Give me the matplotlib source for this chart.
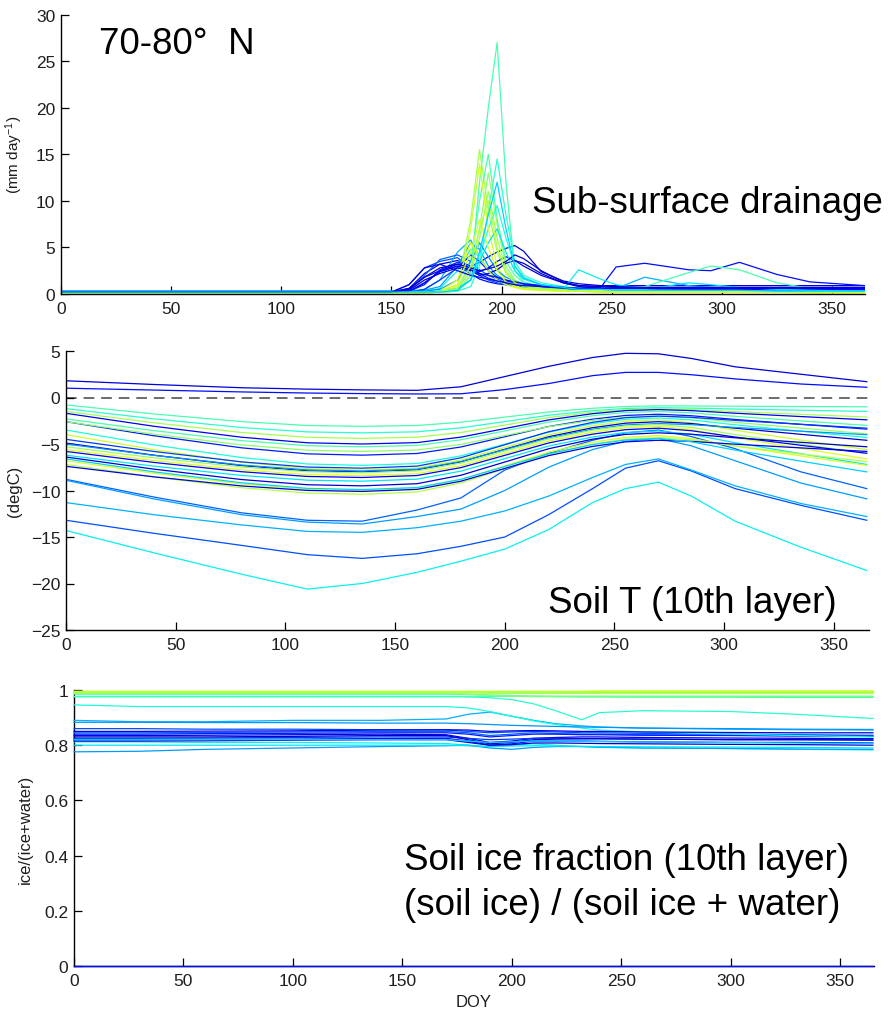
import matplotlib
matplotlib.use("Agg")
import matplotlib.pyplot as plt
from matplotlib.ticker import FuncFormatter, MultipleLocator

plt.rcParams['font.family'] = ['Liberation Sans', 'DejaVu Sans']
plt.rcParams['mathtext.fontset'] = 'custom'
plt.rcParams['mathtext.rm'] = 'Liberation Sans'
plt.rcParams['mathtext.it'] = 'Liberation Sans:italic'
plt.rcParams['axes.unicode_minus'] = True

# ---------------------------------------------------------------- data
# one entry per grid cell: position on the jet colour scale
cell_colour = [0.08, 0.14, 0.36, 0.20, 0.30, 0.22, 0.28, 0.44, 0.40, 0.55,
               0.10, 0.44, 0.15, 0.52, 0.38, 0.60, 0.18, 0.06, 0.27, 0.54,
               0.62, 0.12, 0.35, 0.07, 0.61, 0.57, 0.09, 0.33]

# sub-surface drainage (mm/day)
drain_doy = [0, 150, 158, 165, 172, 180, 186, 190, 194, 198, 202, 206, 210,
             218, 228, 235, 245, 252, 265, 285, 295, 308, 325, 340, 365]
drainage = [
    [0.2, 0.2, 0.6, 2.2, 3.2, 3.6, 3.0, 3.4, 4.0, 4.5, 4.9, 5.2, 4.6, 2.4, 1.4, 1.1, 0.9, 0.9, 0.9, 0.9, 0.9, 0.9, 0.9, 0.9, 0.9],
    [0.1, 0.1, 0.2, 1.2, 2.4, 3.0, 2.2, 1.6, 1.3, 1.1, 1.0, 0.9, 0.8, 0.7, 0.6, 0.6, 0.7, 2.9, 3.3, 2.6, 2.5, 3.4, 2.1, 1.3, 0.9],
    [0.2, 0.2, 0.2, 0.3, 0.6, 2.5, 4.8, 4.0, 2.5, 1.5, 1.0, 0.8, 0.7, 0.6, 0.5, 2.6, 1.6, 1.0, 0.6, 0.5, 0.4, 0.4, 0.3, 0.3, 0.3],
    [0.2, 0.2, 1.0, 2.8, 3.5, 3.9, 2.8, 2.0, 1.5, 1.2, 1.0, 0.9, 0.8, 0.7, 0.6, 0.5, 0.5, 0.5, 0.5, 0.5, 0.5, 0.5, 0.5, 0.5, 0.5],
    [0.3, 0.3, 0.3, 0.5, 1.5, 4.5, 5.8, 4.0, 2.5, 1.8, 1.4, 1.2, 1.0, 0.8, 0.7, 0.6, 0.6, 0.6, 1.8, 0.9, 0.7, 0.6, 0.5, 0.5, 0.5],
    [0.2, 0.2, 0.5, 2.0, 3.7, 4.2, 3.5, 2.6, 2.0, 1.6, 1.2, 1.0, 0.9, 0.7, 0.6, 0.5, 0.5, 0.4, 0.4, 0.4, 0.4, 0.4, 0.4, 0.4, 0.4],
    [0.3, 0.3, 0.3, 0.4, 0.8, 3.0, 5.5, 4.8, 3.0, 2.0, 1.5, 1.2, 1.0, 0.8, 0.6, 0.5, 0.5, 0.4, 0.4, 0.4, 0.4, 0.4, 0.4, 0.3, 0.3],
    [0.2, 0.2, 0.2, 0.2, 0.2, 0.3, 2.0, 12.0, 20.0, 27.0, 12.0, 2.5, 1.3, 0.8, 0.5, 0.4, 0.3, 0.3, 0.3, 0.3, 0.3, 0.3, 0.3, 0.2, 0.2],
    [0.2, 0.2, 0.2, 0.2, 0.2, 0.3, 0.8, 3.0, 9.0, 14.5, 8.5, 3.5, 2.0, 1.2, 0.8, 0.6, 0.5, 0.4, 0.4, 0.3, 0.3, 0.3, 0.3, 0.3, 0.3],
    [0.2, 0.2, 0.2, 0.2, 0.3, 1.0, 8.0, 15.5, 9.0, 4.5, 2.2, 1.3, 1.0, 0.7, 0.5, 0.4, 0.3, 0.3, 0.3, 0.3, 0.3, 0.3, 0.2, 0.2, 0.2],
    [0.2, 0.2, 0.6, 1.8, 2.5, 3.2, 3.0, 2.4, 2.8, 3.5, 4.0, 3.6, 3.0, 2.0, 1.2, 0.9, 0.8, 0.7, 0.7, 0.7, 0.7, 0.7, 0.7, 0.7, 0.7],
    [0.2, 0.2, 0.2, 0.2, 0.2, 0.5, 3.5, 10.0, 15.0, 8.0, 3.5, 2.0, 1.2, 0.8, 0.6, 0.5, 0.5, 0.4, 0.8, 2.3, 3.0, 2.6, 1.2, 0.6, 0.4],
    [0.2, 0.2, 0.3, 1.0, 2.6, 3.4, 3.0, 2.2, 1.7, 1.4, 1.2, 1.0, 0.9, 0.8, 0.7, 0.6, 0.6, 0.6, 0.6, 0.6, 0.6, 0.6, 0.6, 0.6, 0.6],
    [0.2, 0.2, 0.2, 0.2, 0.2, 0.5, 2.5, 7.0, 13.0, 7.5, 3.0, 1.5, 1.0, 0.6, 0.4, 0.3, 0.3, 0.3, 0.3, 0.3, 0.3, 0.2, 0.2, 0.2, 0.2],
    [0.2, 0.2, 0.2, 0.2, 0.3, 0.6, 1.5, 4.0, 7.0, 9.5, 6.0, 3.0, 1.8, 1.0, 0.7, 0.5, 0.5, 0.4, 0.4, 0.4, 0.4, 0.4, 0.3, 0.3, 0.3],
    [0.1, 0.1, 0.1, 0.1, 0.2, 0.8, 7.0, 14.0, 7.0, 3.0, 1.5, 0.9, 0.6, 0.4, 0.3, 0.3, 0.2, 0.2, 0.2, 0.2, 0.2, 0.2, 0.2, 0.2, 0.2],
    [0.2, 0.2, 0.2, 0.5, 1.5, 2.8, 4.2, 3.5, 2.5, 1.8, 1.4, 1.2, 1.0, 0.8, 0.6, 0.5, 0.5, 0.5, 0.5, 0.5, 0.5, 0.5, 0.5, 0.5, 0.5],
    [0.2, 0.2, 0.4, 1.5, 2.2, 2.8, 2.5, 2.0, 2.2, 2.6, 3.3, 3.6, 3.3, 2.2, 1.2, 0.8, 0.6, 0.6, 0.5, 0.5, 0.5, 0.5, 0.5, 0.5, 0.5],
    [0.3, 0.3, 0.3, 0.3, 0.5, 1.5, 3.5, 5.5, 4.0, 2.5, 1.8, 1.4, 1.1, 0.9, 0.7, 0.6, 0.5, 0.5, 0.5, 0.5, 0.4, 0.4, 0.4, 0.4, 0.4],
    [0.2, 0.2, 0.2, 0.2, 0.2, 0.4, 2.0, 6.0, 11.0, 6.0, 2.5, 1.4, 0.9, 0.6, 0.4, 0.3, 0.3, 0.3, 0.3, 0.3, 0.3, 0.3, 0.2, 0.2, 0.2],
    [0.1, 0.1, 0.1, 0.1, 0.3, 1.5, 5.5, 4.0, 2.5, 1.5, 1.0, 0.7, 0.5, 0.4, 0.3, 0.3, 0.3, 0.2, 0.2, 0.2, 0.2, 0.2, 0.2, 0.2, 0.2],
    [0.2, 0.2, 0.3, 1.2, 2.4, 3.0, 2.6, 2.2, 2.0, 1.8, 1.5, 1.3, 1.1, 0.9, 0.7, 0.6, 0.6, 0.6, 0.6, 0.5, 0.5, 0.5, 0.5, 0.5, 0.5],
    [0.2, 0.2, 0.2, 0.2, 0.3, 0.6, 1.5, 3.5, 5.5, 7.0, 4.5, 2.5, 1.6, 1.0, 0.7, 0.6, 0.5, 0.5, 0.5, 1.2, 1.0, 0.7, 0.5, 0.4, 0.3],
    [0.2, 0.2, 0.5, 1.8, 2.8, 3.2, 2.8, 2.5, 2.7, 3.0, 3.5, 4.2, 3.8, 2.5, 1.3, 0.9, 0.8, 0.8, 0.7, 0.7, 0.7, 0.7, 0.7, 0.7, 0.7],
    [0.1, 0.1, 0.1, 0.1, 0.2, 1.0, 4.5, 8.0, 5.0, 2.5, 1.3, 0.8, 0.5, 0.4, 0.3, 0.3, 0.2, 0.2, 0.2, 0.2, 0.2, 0.2, 0.2, 0.1, 0.1],
    [0.1, 0.1, 0.1, 0.1, 0.2, 0.6, 3.0, 7.0, 10.0, 5.0, 2.2, 1.2, 0.8, 0.5, 0.4, 0.3, 0.3, 0.3, 0.3, 0.3, 0.3, 0.3, 0.2, 0.2, 0.2],
    [0.2, 0.2, 1.0, 2.8, 3.2, 2.5, 2.0, 1.8, 1.6, 1.4, 1.2, 1.0, 0.9, 0.8, 0.7, 0.6, 0.6, 0.6, 0.6, 0.6, 0.6, 0.6, 0.6, 0.6, 0.6],
    [0.2, 0.2, 0.2, 0.2, 0.2, 0.4, 1.5, 4.5, 8.5, 12.0, 7.0, 3.0, 1.7, 1.0, 0.7, 0.5, 0.5, 0.4, 0.4, 0.4, 0.4, 0.4, 0.3, 0.3, 0.3],
]

# soil temperature of the 10th layer (degC)
soil_t_doy = [0, 40, 80, 110, 135, 160, 180, 200, 220, 240, 255, 270, 285, 305, 335, 365]
soil_t = [
    [1.8, 1.4, 1.05, 0.9, 0.82, 0.77, 1.15, 2.25, 3.35, 4.3, 4.75, 4.7, 4.2, 3.3, 2.5, 1.7],
    [1.0, 0.8, 0.6, 0.48, 0.42, 0.38, 0.4, 0.85, 1.5, 2.35, 2.7, 2.7, 2.45, 2.0, 1.45, 1.1],
    [-14.3, -16.7, -19.0, -20.6, -20.0, -18.8, -17.6, -16.3, -14.2, -11.3, -9.8, -9.1, -10.6, -13.3, -16.1, -18.6],
    [-13.2, -14.6, -15.9, -16.9, -17.3, -16.8, -16.0, -15.0, -12.6, -9.8, -7.6, -6.8, -7.9, -9.8, -11.6, -13.2],
    [-11.3, -12.6, -13.7, -14.4, -14.5, -14.0, -13.3, -12.2, -10.6, -8.6, -7.2, -6.6, -7.8, -9.5, -11.4, -12.8],
    [-8.8, -10.7, -12.4, -13.2, -13.3, -12.1, -10.8, -7.8, -6.0, -4.6, -3.8, -3.5, -4.2, -5.5, -8.0, -9.8],
    [-8.9, -10.9, -12.6, -13.4, -13.6, -12.8, -12.0, -10.0, -7.5, -5.6, -4.7, -4.4, -5.2, -6.8, -9.2, -10.9],
    [-0.8, -1.77, -2.59, -3.01, -3.1, -3.01, -2.66, -2.11, -1.56, -1.16, -0.97, -0.9, -0.91, -0.94, -0.97, -1.0],
    [-1.2, -2.29, -3.23, -3.7, -3.8, -3.69, -3.26, -2.59, -1.91, -1.42, -1.18, -1.1, -1.14, -1.24, -1.37, -1.5],
    [-1.5, -2.72, -3.76, -4.28, -4.4, -4.27, -3.76, -2.96, -2.16, -1.58, -1.3, -1.2, -1.29, -1.52, -1.81, -2.1],
    [-1.7, -3.09, -4.27, -4.87, -5.0, -4.85, -4.26, -3.34, -2.41, -1.74, -1.41, -1.3, -1.41, -1.69, -2.05, -2.4],
    [-2.3, -3.56, -4.64, -5.18, -5.3, -5.15, -4.54, -3.59, -2.64, -1.96, -1.61, -1.5, -1.65, -2.03, -2.52, -3.0],
    [-2.6, -4.11, -5.41, -6.06, -6.2, -6.02, -5.32, -4.22, -3.12, -2.33, -1.93, -1.8, -1.96, -2.36, -2.89, -3.4],
    [-2.6, -3.94, -5.1, -5.67, -5.8, -5.65, -5.04, -4.09, -3.14, -2.46, -2.11, -2.0, -2.19, -2.67, -3.29, -3.9],
    [-3.5, -5.1, -6.46, -7.15, -7.3, -7.1, -6.28, -5.01, -3.73, -2.81, -2.35, -2.2, -2.41, -2.94, -3.63, -4.3],
    [-4.0, -5.6, -6.96, -7.65, -7.8, -7.58, -6.72, -5.37, -4.02, -3.05, -2.56, -2.4, -2.72, -3.52, -4.58, -5.6],
    [-4.5, -5.8, -6.92, -7.48, -7.6, -7.38, -6.48, -5.08, -3.68, -2.67, -2.17, -2.0, -2.13, -2.46, -2.88, -3.3],
    [-4.9, -6.2, -7.32, -7.88, -8.0, -7.78, -6.92, -5.57, -4.22, -3.25, -2.76, -2.6, -2.8, -3.3, -3.96, -4.6],
    [-5.0, -6.22, -7.26, -7.78, -7.9, -7.7, -6.88, -5.61, -4.33, -3.41, -2.95, -2.8, -2.92, -3.22, -3.62, -4.0],
    [-5.3, -6.48, -7.48, -7.99, -8.1, -7.89, -7.06, -5.76, -4.46, -3.52, -3.06, -2.9, -3.21, -3.99, -5.01, -6.0],
    [-5.6, -6.78, -7.78, -8.29, -8.4, -8.19, -7.34, -6.02, -4.69, -3.74, -3.26, -3.1, -3.45, -4.33, -5.48, -6.6],
    [-5.8, -6.98, -7.98, -8.49, -8.6, -8.39, -7.54, -6.22, -4.89, -3.94, -3.46, -3.3, -3.57, -4.25, -5.14, -6.0],
    [-6.2, -7.38, -8.38, -8.89, -9.0, -8.78, -7.92, -6.57, -5.22, -4.25, -3.76, -3.6, -3.96, -4.86, -6.05, -7.2],
    [-6.4, -7.7, -8.82, -9.38, -9.5, -9.27, -8.36, -6.94, -5.51, -4.48, -3.97, -3.8, -3.95, -4.33, -4.82, -5.3],
    [-6.8, -8.14, -9.3, -9.87, -10.0, -9.76, -8.82, -7.35, -5.87, -4.81, -4.28, -4.1, -4.42, -5.22, -6.28, -7.3],
    [-7.2, -8.54, -9.7, -10.27, -10.4, -10.16, -9.18, -7.66, -6.13, -5.03, -4.48, -4.3, -4.56, -5.21, -6.07, -6.9],
    [-7.4, -8.53, -9.51, -9.99, -10.1, -9.88, -9.0, -7.63, -6.25, -5.26, -4.77, -4.6, -4.72, -5.02, -5.42, -5.8],
    [-6.6, -7.99, -9.17, -9.77, -9.9, -9.68, -8.8, -7.43, -6.05, -5.06, -4.57, -4.4, -4.76, -5.66, -6.85, -8.0],
]

# soil ice fraction of the 10th layer: ice / (ice + water)
ice_doy = [0, 30, 60, 100, 140, 170, 180, 190, 200, 210, 220, 232, 240, 260, 300, 330, 365]
ice_frac = [
    [0.0] * 17,
    [0.0] * 17,
    [0.812, 0.812, 0.81, 0.81, 0.808, 0.806, 0.80, 0.795, 0.80, 0.805, 0.80, 0.795, 0.792, 0.79, 0.788, 0.785, 0.783],
    [0.86, 0.86, 0.858, 0.858, 0.856, 0.855, 0.85, 0.845, 0.848, 0.85, 0.848, 0.845, 0.845, 0.843, 0.84, 0.838, 0.836],
    [0.89, 0.885, 0.885, 0.89, 0.89, 0.895, 0.912, 0.92, 0.905, 0.89, 0.878, 0.87, 0.866, 0.862, 0.858, 0.856, 0.855],
    [0.845, 0.845, 0.846, 0.848, 0.85, 0.85, 0.845, 0.835, 0.84, 0.845, 0.842, 0.84, 0.84, 0.838, 0.836, 0.835, 0.834],
    [0.776, 0.778, 0.785, 0.79, 0.795, 0.798, 0.80, 0.79, 0.785, 0.792, 0.795, 0.795, 0.793, 0.79, 0.788, 0.786, 0.785],
    [0.985, 0.985, 0.985, 0.985, 0.985, 0.985, 0.984, 0.982, 0.98, 0.978, 0.976, 0.975, 0.975, 0.974, 0.974, 0.973, 0.973],
    [0.975, 0.975, 0.975, 0.975, 0.975, 0.975, 0.975, 0.972, 0.965, 0.95, 0.925, 0.892, 0.918, 0.925, 0.922, 0.912, 0.897],
    [0.99, 0.99, 0.99, 0.99, 0.99, 0.99, 0.99, 0.988, 0.988, 0.988, 0.988, 0.988, 0.988, 0.988, 0.988, 0.988, 0.988],
    [0.835, 0.835, 0.836, 0.838, 0.84, 0.838, 0.825, 0.81, 0.815, 0.825, 0.828, 0.83, 0.83, 0.828, 0.826, 0.825, 0.824],
    [0.977, 0.977, 0.977, 0.977, 0.977, 0.977, 0.977, 0.977, 0.977, 0.976, 0.976, 0.976, 0.976, 0.976, 0.976, 0.976, 0.976],
    [0.84, 0.84, 0.842, 0.843, 0.845, 0.845, 0.84, 0.83, 0.835, 0.84, 0.84, 0.838, 0.838, 0.836, 0.835, 0.833, 0.832],
    [0.988, 0.988, 0.988, 0.988, 0.988, 0.988, 0.985, 0.98, 0.978, 0.978, 0.978, 0.978, 0.978, 0.978, 0.978, 0.978, 0.978],
    [0.946, 0.94, 0.94, 0.94, 0.94, 0.94, 0.935, 0.922, 0.905, 0.888, 0.875, 0.862, 0.855, 0.848, 0.84, 0.835, 0.83],
    [0.993] * 17,
    [0.825, 0.825, 0.826, 0.828, 0.83, 0.83, 0.825, 0.82, 0.822, 0.825, 0.825, 0.824, 0.824, 0.822, 0.82, 0.82, 0.82],
    [0.83, 0.83, 0.83, 0.832, 0.835, 0.835, 0.82, 0.805, 0.81, 0.82, 0.822, 0.823, 0.823, 0.822, 0.82, 0.82, 0.818],
    [0.883, 0.883, 0.882, 0.882, 0.88, 0.88, 0.878, 0.875, 0.872, 0.87, 0.868, 0.866, 0.865, 0.862, 0.86, 0.858, 0.857],
    [0.992] * 17,
    [0.998] * 17,
    [0.82, 0.82, 0.821, 0.822, 0.824, 0.825, 0.815, 0.80, 0.805, 0.815, 0.815, 0.815, 0.814, 0.812, 0.81, 0.81, 0.808],
    [0.80, 0.80, 0.80, 0.80, 0.80, 0.80, 0.798, 0.795, 0.797, 0.798, 0.797, 0.796, 0.795, 0.794, 0.793, 0.792, 0.79],
    [0.815, 0.815, 0.816, 0.818, 0.82, 0.82, 0.81, 0.80, 0.802, 0.808, 0.808, 0.807, 0.806, 0.805, 0.803, 0.802, 0.80],
    [0.995, 0.995, 0.995, 0.995, 0.995, 0.995, 0.995, 0.995, 0.995, 0.995, 0.995, 0.995, 0.997, 0.997, 0.997, 0.997, 0.997],
    [0.996] * 17,
    [0.85, 0.85, 0.851, 0.852, 0.855, 0.856, 0.855, 0.85, 0.852, 0.853, 0.852, 0.85, 0.85, 0.848, 0.846, 0.845, 0.845],
    [0.82, 0.82, 0.82, 0.82, 0.82, 0.82, 0.815, 0.81, 0.812, 0.815, 0.815, 0.814, 0.813, 0.812, 0.81, 0.808, 0.806],
]

x_ticks = [0, 50, 100, 150, 200, 250, 300, 350]

# ---------------------------------------------------------------- figure
W, H = 889, 1012
fig = plt.figure(figsize=(W / 100, H / 100), dpi=100)
cmap = plt.get_cmap('jet')


def box(left, top, right, bottom):
    return [left / W, 1 - bottom / H, (right - left) / W, (bottom - top) / H]


ax_dr = fig.add_axes(box(61, 15.6, 865, 295))
ax_t = fig.add_axes(box(66, 352, 869, 631))
ax_ice = fig.add_axes(box(74, 691, 874, 967))

tick_col = '#1e1e1e'
for ax in (ax_dr, ax_t, ax_ice):
    ax.spines['top'].set_visible(False)
    ax.spines['right'].set_visible(False)
    for side in ('left', 'bottom'):
        ax.spines[side].set_linewidth(1.0)
        ax.spines[side].set_color('black')
    ax.tick_params(direction='in', length=6, width=0.9, labelsize=12.5,
                   labelcolor=tick_col, color='black')
    ax.tick_params(axis='y', pad=4)
    ax.tick_params(axis='x', pad=5)
    ax.set_xticks(x_ticks)
    ax.patch.set_alpha(0)

lw = 0.9

# sub-surface drainage
for c, vals in zip(cell_colour, drainage):
    ax_dr.plot(drain_doy, vals, color=cmap(c), lw=lw)
ax_dr.set_xlim(0, 365)
ax_dr.set_ylim(0, 30)
ax_dr.yaxis.set_major_locator(MultipleLocator(5))
ax_dr.set_ylabel(r'(mm day$^{-1}$)', fontsize=11, color=tick_col)
ax_dr.yaxis.set_label_coords(-0.045, 0.5)

# soil temperature
ax_t.axhline(0, color='#444444', lw=1.1, ls=(0, (7, 4.5)), zorder=1)
for c, vals in zip(cell_colour, soil_t):
    ax_t.plot(soil_t_doy, vals, color=cmap(c), lw=lw)
ax_t.set_xlim(0, 366)
ax_t.set_ylim(-25, 5)
ax_t.yaxis.set_major_locator(MultipleLocator(5))
ax_t.set_ylabel('(degC)', fontsize=12, color=tick_col)
ax_t.yaxis.set_label_coords(-0.055, 0.5)

# soil ice fraction
for c, vals in zip(cell_colour, ice_frac):
    ax_ice.plot(ice_doy, vals, color=cmap(c), lw=lw, clip_on=False, zorder=3)
ax_ice.set_xlim(0, 365.5)
ax_ice.set_ylim(0, 1)
ax_ice.yaxis.set_major_locator(MultipleLocator(0.2))
ax_ice.yaxis.set_major_formatter(FuncFormatter(lambda v, p: f'{v:g}'))
ax_ice.set_ylabel('ice/(ice+water)', fontsize=12, color=tick_col)
ax_ice.yaxis.set_label_coords(-0.051, 0.5)
ax_ice.set_xlabel('DOY', fontsize=12, color=tick_col)
ax_ice.xaxis.set_label_coords(0.5, -0.10)

# panel annotations
big = 26.5
fig.text(99 / W, 1 - 54 / H, '70-80°  N', fontsize=big, va='baseline')
fig.text(532 / W, 1 - 213 / H, 'Sub-surface drainage', fontsize=big, va='baseline')
fig.text(548 / W, 1 - 613 / H, 'Soil T (10th layer)', fontsize=big, va='baseline')
fig.text(404 / W, 1 - 870 / H, 'Soil ice fraction (10th layer)', fontsize=big, va='baseline')
fig.text(404 / W, 1 - 915 / H, '(soil ice) / (soil ice + water)', fontsize=big, va='baseline')

fig.savefig('out.png', dpi=100)
